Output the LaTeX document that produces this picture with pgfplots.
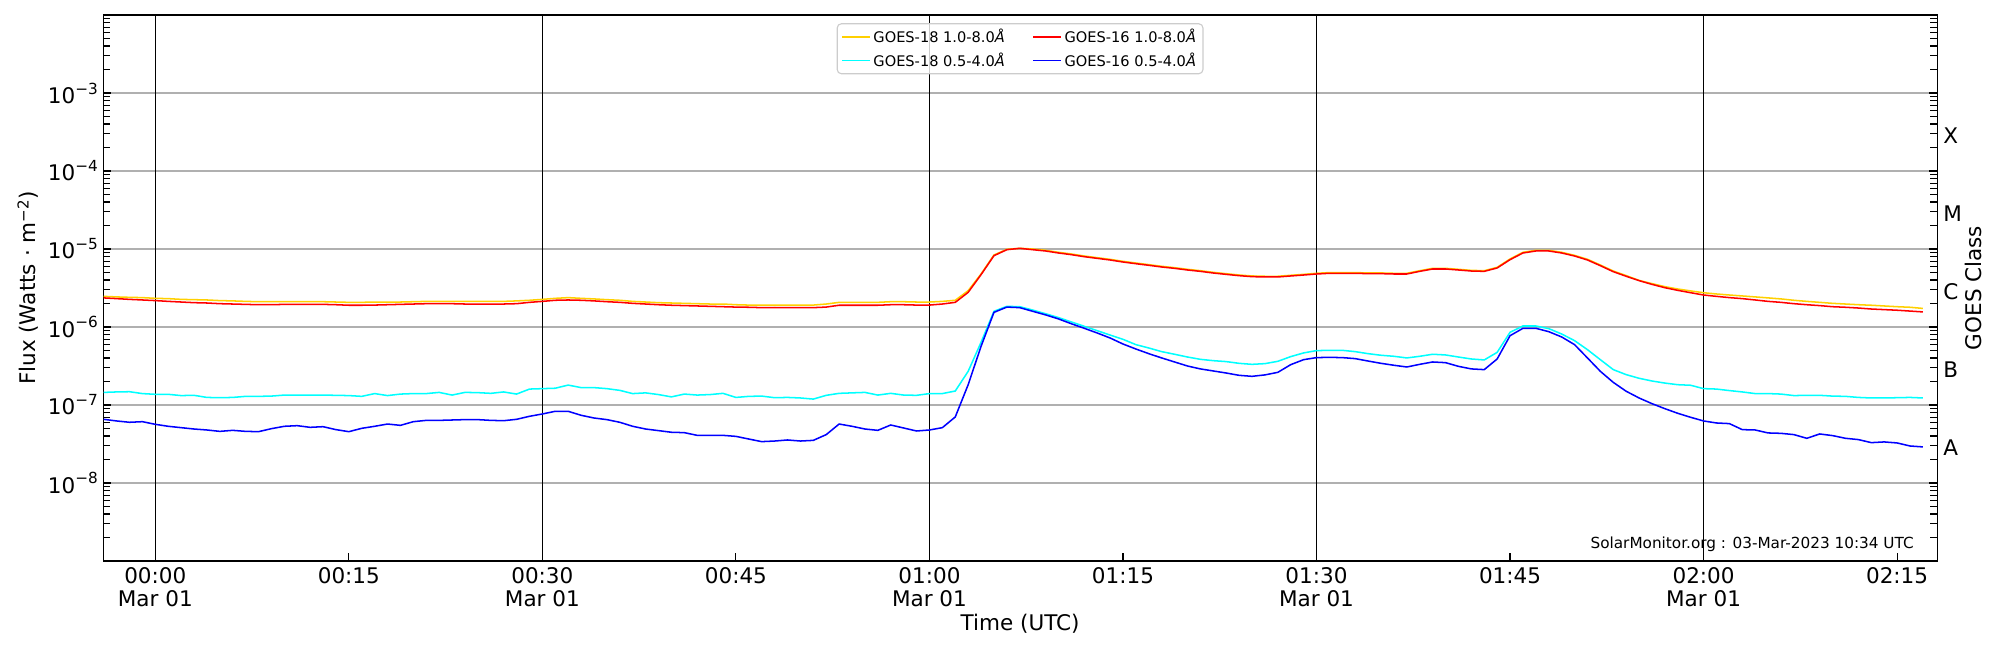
\documentclass[border=0pt]{standalone}
\usepackage{fontspec}
\setmainfont{DejaVu Sans}
\usepackage{pgfplots}
\pgfplotsset{compat=1.18}
\usepackage{pgfplotstable}
\definecolor{gyellow}{RGB}{255,208,0}
\definecolor{gred}{RGB}{255,0,0}
\definecolor{gcyan}{RGB}{0,255,255}
\definecolor{gblue}{RGB}{0,0,255}
\definecolor{gridgray}{RGB}{176,176,176}
\definecolor{leggray}{RGB}{204,204,204}
\newcommand\TS{\fontsize{15.5}{16.6}\selectfont}
\newcommand\sci[1]{10\raisebox{6.5pt}{\fontsize{11}{11}\selectfont −#1}}

\pgfplotstableread{
m f
-4 2.47e-6
-3 2.43e-6
-2 2.40e-6
-1 2.38e-6
0 2.33e-6
1 2.31e-6
2 2.26e-6
3 2.24e-6
4 2.22e-6
5 2.18e-6
6 2.16e-6
7 2.13e-6
8 2.11e-6
9 2.11e-6
10 2.11e-6
11 2.11e-6
12 2.11e-6
13 2.11e-6
14 2.09e-6
15 2.07e-6
16 2.07e-6
17 2.09e-6
18 2.09e-6
19 2.09e-6
20 2.11e-6
21 2.13e-6
22 2.13e-6
23 2.13e-6
24 2.13e-6
25 2.13e-6
26 2.13e-6
27 2.13e-6
28 2.16e-6
29 2.20e-6
30 2.26e-6
31 2.33e-6
32 2.38e-6
33 2.33e-6
34 2.29e-6
35 2.24e-6
36 2.20e-6
37 2.13e-6
38 2.09e-6
39 2.05e-6
40 2.03e-6
41 2.01e-6
42 1.99e-6
43 1.97e-6
44 1.97e-6
45 1.93e-6
46 1.91e-6
47 1.91e-6
48 1.90e-6
49 1.91e-6
50 1.91e-6
51 1.91e-6
52 1.97e-6
53 2.07e-6
54 2.07e-6
55 2.07e-6
56 2.07e-6
57 2.11e-6
58 2.11e-6
59 2.09e-6
60 2.09e-6
61 2.13e-6
62 2.20e-6
63 2.92e-6
64 4.78e-6
65 8.38e-6
66 9.90e-6
67 1.02e-5
68 1.00e-5
69 9.62e-6
70 9.07e-6
71 8.63e-6
72 8.13e-6
73 7.74e-6
74 7.37e-6
75 6.95e-6
76 6.61e-6
77 6.30e-6
78 6.00e-6
79 5.76e-6
80 5.49e-6
81 5.27e-6
82 5.02e-6
83 4.82e-6
84 4.64e-6
85 4.51e-6
86 4.47e-6
87 4.47e-6
88 4.60e-6
89 4.73e-6
90 4.88e-6
91 4.98e-6
92 4.98e-6
93 4.98e-6
94 4.93e-6
95 4.93e-6
96 4.88e-6
97 4.88e-6
98 5.27e-6
99 5.65e-6
100 5.65e-6
101 5.49e-6
102 5.32e-6
103 5.27e-6
104 5.82e-6
105 7.45e-6
106 9.07e-6
107 9.62e-6
108 9.62e-6
109 9.07e-6
110 8.29e-6
111 7.38e-6
112 6.23e-6
113 5.22e-6
114 4.56e-6
115 3.96e-6
116 3.60e-6
117 3.29e-6
118 3.07e-6
119 2.90e-6
120 2.75e-6
121 2.65e-6
122 2.57e-6
123 2.50e-6
124 2.43e-6
125 2.36e-6
126 2.29e-6
127 2.20e-6
128 2.13e-6
129 2.07e-6
130 2.01e-6
131 1.97e-6
132 1.93e-6
133 1.90e-6
134 1.86e-6
135 1.82e-6
136 1.79e-6
137 1.73e-6
}\tyellow

\pgfplotstableread{
m f
-4 2.36e-6
-3 2.31e-6
-2 2.26e-6
-1 2.22e-6
0 2.18e-6
1 2.13e-6
2 2.09e-6
3 2.05e-6
4 2.03e-6
5 1.99e-6
6 1.97e-6
7 1.95e-6
8 1.93e-6
9 1.93e-6
10 1.95e-6
11 1.95e-6
12 1.95e-6
13 1.95e-6
14 1.93e-6
15 1.90e-6
16 1.90e-6
17 1.91e-6
18 1.93e-6
19 1.95e-6
20 1.97e-6
21 1.99e-6
22 1.99e-6
23 1.99e-6
24 1.97e-6
25 1.97e-6
26 1.97e-6
27 1.97e-6
28 1.99e-6
29 2.07e-6
30 2.13e-6
31 2.20e-6
32 2.22e-6
33 2.20e-6
34 2.16e-6
35 2.11e-6
36 2.07e-6
37 2.01e-6
38 1.97e-6
39 1.93e-6
40 1.90e-6
41 1.88e-6
42 1.86e-6
43 1.84e-6
44 1.82e-6
45 1.80e-6
46 1.79e-6
47 1.77e-6
48 1.77e-6
49 1.77e-6
50 1.77e-6
51 1.77e-6
52 1.80e-6
53 1.90e-6
54 1.90e-6
55 1.90e-6
56 1.90e-6
57 1.93e-6
58 1.93e-6
59 1.91e-6
60 1.91e-6
61 1.97e-6
62 2.07e-6
63 2.78e-6
64 4.69e-6
65 8.21e-6
66 9.80e-6
67 1.02e-5
68 9.80e-6
69 9.43e-6
70 8.89e-6
71 8.46e-6
72 7.97e-6
73 7.59e-6
74 7.23e-6
75 6.81e-6
76 6.48e-6
77 6.18e-6
78 5.88e-6
79 5.65e-6
80 5.38e-6
81 5.17e-6
82 4.92e-6
83 4.73e-6
84 4.55e-6
85 4.42e-6
86 4.38e-6
87 4.38e-6
88 4.51e-6
89 4.64e-6
90 4.78e-6
91 4.88e-6
92 4.88e-6
93 4.88e-6
94 4.83e-6
95 4.83e-6
96 4.78e-6
97 4.78e-6
98 5.17e-6
99 5.54e-6
100 5.54e-6
101 5.38e-6
102 5.22e-6
103 5.17e-6
104 5.71e-6
105 7.30e-6
106 8.89e-6
107 9.43e-6
108 9.43e-6
109 8.89e-6
110 8.13e-6
111 7.23e-6
112 6.11e-6
113 5.12e-6
114 4.47e-6
115 3.93e-6
116 3.52e-6
117 3.19e-6
118 2.95e-6
119 2.75e-6
120 2.57e-6
121 2.47e-6
122 2.38e-6
123 2.31e-6
124 2.22e-6
125 2.13e-6
126 2.07e-6
127 1.99e-6
128 1.93e-6
129 1.88e-6
130 1.82e-6
131 1.79e-6
132 1.75e-6
133 1.70e-6
134 1.67e-6
135 1.64e-6
136 1.60e-6
137 1.56e-6
}\tred

\pgfplotstableread{
m f
-4 1.45e-7
-3 1.47e-7
-2 1.48e-7
-1 1.40e-7
0 1.37e-7
1 1.37e-7
2 1.32e-7
3 1.33e-7
4 1.25e-7
5 1.24e-7
6 1.25e-7
7 1.29e-7
8 1.29e-7
9 1.30e-7
10 1.34e-7
11 1.34e-7
12 1.34e-7
13 1.34e-7
14 1.33e-7
15 1.32e-7
16 1.29e-7
17 1.40e-7
18 1.32e-7
19 1.38e-7
20 1.40e-7
21 1.40e-7
22 1.45e-7
23 1.34e-7
24 1.45e-7
25 1.44e-7
26 1.41e-7
27 1.47e-7
28 1.38e-7
29 1.60e-7
30 1.62e-7
31 1.64e-7
32 1.80e-7
33 1.67e-7
34 1.67e-7
35 1.62e-7
36 1.54e-7
37 1.40e-7
38 1.43e-7
39 1.36e-7
40 1.27e-7
41 1.38e-7
42 1.34e-7
43 1.36e-7
44 1.41e-7
45 1.25e-7
46 1.29e-7
47 1.30e-7
48 1.24e-7
49 1.25e-7
50 1.23e-7
51 1.19e-7
52 1.33e-7
53 1.41e-7
54 1.43e-7
55 1.45e-7
56 1.34e-7
57 1.41e-7
58 1.34e-7
59 1.33e-7
60 1.40e-7
61 1.40e-7
62 1.51e-7
63 2.70e-7
64 6.36e-7
65 1.59e-6
66 1.84e-6
67 1.82e-6
68 1.65e-6
69 1.48e-6
70 1.32e-6
71 1.16e-6
72 1.02e-6
73 8.97e-7
74 7.89e-7
75 6.95e-7
76 5.94e-7
77 5.38e-7
78 4.83e-7
79 4.47e-7
80 4.12e-7
81 3.85e-7
82 3.70e-7
83 3.60e-7
84 3.42e-7
85 3.32e-7
86 3.39e-7
87 3.63e-7
88 4.17e-7
89 4.65e-7
90 4.98e-7
91 5.02e-7
92 5.02e-7
93 4.83e-7
94 4.55e-7
95 4.34e-7
96 4.21e-7
97 4.01e-7
98 4.21e-7
99 4.47e-7
100 4.38e-7
101 4.12e-7
102 3.89e-7
103 3.78e-7
104 4.73e-7
105 8.55e-7
106 1.03e-6
107 1.03e-6
108 9.53e-7
109 8.13e-7
110 6.68e-7
111 5.12e-7
112 3.81e-7
113 2.84e-7
114 2.45e-7
115 2.20e-7
116 2.03e-7
117 1.91e-7
118 1.82e-7
119 1.79e-7
120 1.62e-7
121 1.60e-7
122 1.53e-7
123 1.47e-7
124 1.40e-7
125 1.40e-7
126 1.38e-7
127 1.32e-7
128 1.33e-7
129 1.33e-7
130 1.30e-7
131 1.29e-7
132 1.25e-7
133 1.23e-7
134 1.23e-7
135 1.24e-7
136 1.25e-7
137 1.23e-7
}\tcyan

\pgfplotstableread{
m f
-4 6.55e-8
-3 6.24e-8
-2 6.00e-8
-1 6.11e-8
0 5.65e-8
1 5.33e-8
2 5.12e-8
3 4.92e-8
4 4.78e-8
5 4.59e-8
6 4.73e-8
7 4.59e-8
8 4.55e-8
9 4.97e-8
10 5.33e-8
11 5.43e-8
12 5.17e-8
13 5.27e-8
14 4.83e-8
15 4.55e-8
16 5.02e-8
17 5.33e-8
18 5.70e-8
19 5.48e-8
20 6.11e-8
21 6.35e-8
22 6.35e-8
23 6.42e-8
24 6.49e-8
25 6.49e-8
26 6.35e-8
27 6.29e-8
28 6.55e-8
29 7.16e-8
30 7.67e-8
31 8.30e-8
32 8.30e-8
33 7.38e-8
34 6.81e-8
35 6.49e-8
36 6.00e-8
37 5.33e-8
38 4.92e-8
39 4.69e-8
40 4.47e-8
41 4.42e-8
42 4.08e-8
43 4.08e-8
44 4.08e-8
45 3.96e-8
46 3.66e-8
47 3.39e-8
48 3.45e-8
49 3.56e-8
50 3.45e-8
51 3.52e-8
52 4.17e-8
53 5.70e-8
54 5.33e-8
55 4.92e-8
56 4.73e-8
57 5.54e-8
58 5.07e-8
59 4.64e-8
60 4.78e-8
61 5.12e-8
62 7.02e-8
63 1.82e-7
64 5.65e-7
65 1.54e-6
66 1.80e-6
67 1.77e-6
68 1.59e-6
69 1.43e-6
70 1.27e-6
71 1.10e-6
72 9.62e-7
73 8.38e-7
74 7.23e-7
75 6.05e-7
76 5.22e-7
77 4.55e-7
78 4.01e-7
79 3.56e-7
80 3.16e-7
81 2.90e-7
82 2.73e-7
83 2.57e-7
84 2.40e-7
85 2.33e-7
86 2.43e-7
87 2.62e-7
88 3.29e-7
89 3.81e-7
90 4.05e-7
91 4.08e-7
92 4.05e-7
93 3.93e-7
94 3.66e-7
95 3.42e-7
96 3.23e-7
97 3.07e-7
98 3.32e-7
99 3.56e-7
100 3.49e-7
101 3.13e-7
102 2.90e-7
103 2.84e-7
104 3.89e-7
105 7.74e-7
106 9.62e-7
107 9.62e-7
108 8.71e-7
109 7.45e-7
110 5.94e-7
111 4.01e-7
112 2.70e-7
113 1.95e-7
114 1.50e-7
115 1.23e-7
116 1.04e-7
117 8.97e-8
118 7.82e-8
119 6.95e-8
120 6.24e-8
121 5.88e-8
122 5.77e-8
123 4.83e-8
124 4.78e-8
125 4.38e-8
126 4.33e-8
127 4.17e-8
128 3.74e-8
129 4.25e-8
130 4.05e-8
131 3.74e-8
132 3.60e-8
133 3.29e-8
134 3.36e-8
135 3.26e-8
136 2.98e-8
137 2.90e-8
}\tblue

\begin{document}
\begin{tikzpicture}
\useasboundingbox (0,0) rectangle (1440pt,468pt);
\begin{axis}[
  at={(74.2pt,64.1pt)}, anchor=south west,
  scale only axis, width=1320.5pt, height=393.1pt,
  clip=false,
  ymode=log, log basis y=10,
  xmin=-4.05, xmax=138.1, ymin=1e-9, ymax=1e-2,
  axis line style={line width=0.8pt},
  tick align=inside, xtick pos=lower, ytick pos=both,
  xtick={0,15,30,45,60,75,90,105,120,135},
  xticklabels={{00:00\\Mar 01},00:15,{00:30\\Mar 01},00:45,{01:00\\Mar 01},01:15,{01:30\\Mar 01},01:45,{02:00\\Mar 01},02:15},
  xticklabel style={align=center, anchor=north, inner sep=0pt, yshift=-4.3pt, font=\TS},
  ytick={1e-8,1e-7,1e-6,1e-5,1e-4,1e-3},
  yticklabels={\sci{8},\sci{7},\sci{6},\sci{5},\sci{4},\sci{3}},
  yticklabel style={anchor=east, inner sep=0pt, xshift=-3.6pt, font=\TS},
  minor ytick={2e-9,3e-9,4e-9,5e-9,6e-9,7e-9,8e-9,9e-9,
    2e-8,3e-8,4e-8,5e-8,6e-8,7e-8,8e-8,9e-8,
    2e-7,3e-7,4e-7,5e-7,6e-7,7e-7,8e-7,9e-7,
    2e-6,3e-6,4e-6,5e-6,6e-6,7e-6,8e-6,9e-6,
    2e-5,3e-5,4e-5,5e-5,6e-5,7e-5,8e-5,9e-5,
    2e-4,3e-4,4e-4,5e-4,6e-4,7e-4,8e-4,9e-4,
    2e-3,3e-3,4e-3,5e-3,6e-3,7e-3,8e-3,9e-3},
  major tick length=5.8pt, minor tick length=5pt,
  every tick/.style={black, line width=0.8pt},
  ymajorgrids, major grid style={line width=0.8pt, gridgray},
  extra x ticks={0,30,60,90,120}, extra x tick labels={},
  extra x tick style={grid=major, major grid style={black, line width=0.9pt}},
  xlabel={Time (UTC)},
  xlabel style={at={(axis description cs:0.5,-0.1155)}, anchor=center, font=\TS},
  ylabel={Flux (Watts · m\textsuperscript{−2})},
  ylabel style={at={(axis description cs:-0.0409,0.5)}, anchor=center, font=\TS},
  legend columns=2,
  legend cell align=left,
  legend image code/.code={\draw[#1, line width=1.1pt] (0pt,0pt) -- (20pt,0pt);},
  legend style={at={(0.5,1)}, anchor=north, yshift=-5.9pt,
    font=\fontsize{10.5}{12}\selectfont,
    draw=leggray, line width=0.8pt, rounded corners=3pt,
    fill=white, fill opacity=0.8, text opacity=1, draw opacity=1,
    inner xsep=3pt, inner ysep=2pt, row sep=1.5pt,
    /tikz/every even column/.append style={column sep=18pt}},
]
\addplot[gyellow, line width=1.1pt] table[x=m, y=f] {\tyellow};
\addlegendentry{GOES-18 1.0-8.0\textit{Å}}
\addplot[gred, line width=1.1pt] table[x=m, y=f] {\tred};
\addlegendentry{GOES-16 1.0-8.0\textit{Å}}
\addplot[gcyan, line width=1.1pt] table[x=m, y=f] {\tcyan};
\addlegendentry{GOES-18 0.5-4.0\textit{Å}}
\addplot[gblue, line width=1.1pt] table[x=m, y=f] {\tblue};
\addlegendentry{GOES-16 0.5-4.0\textit{Å}}

\node[anchor=west, inner sep=0pt, xshift=4.3pt, yshift=-2.9pt, font=\TS] at (rel axis cs:1,0.2143) {A};
\node[anchor=west, inner sep=0pt, xshift=4.3pt, yshift=-2.9pt, font=\TS] at (rel axis cs:1,0.3571) {B};
\node[anchor=west, inner sep=0pt, xshift=4.3pt, yshift=-2.9pt, font=\TS] at (rel axis cs:1,0.5) {C};
\node[anchor=west, inner sep=0pt, xshift=4.3pt, yshift=-2.9pt, font=\TS] at (rel axis cs:1,0.6429) {M};
\node[anchor=west, inner sep=0pt, xshift=4.3pt, yshift=-2.9pt, font=\TS] at (rel axis cs:1,0.7857) {X};
\node[rotate=90, anchor=center, font=\TS] at (axis description cs:1.0196,0.5) {GOES Class};
\node[anchor=east, inner sep=0pt, xshift=-16.6pt, yshift=12.2pt, font=\fontsize{11}{13}\selectfont] at (rel axis cs:1,0) {SolarMonitor.org : 03-Mar-2023 10:34 UTC};
\end{axis}
\end{tikzpicture}
\end{document}
